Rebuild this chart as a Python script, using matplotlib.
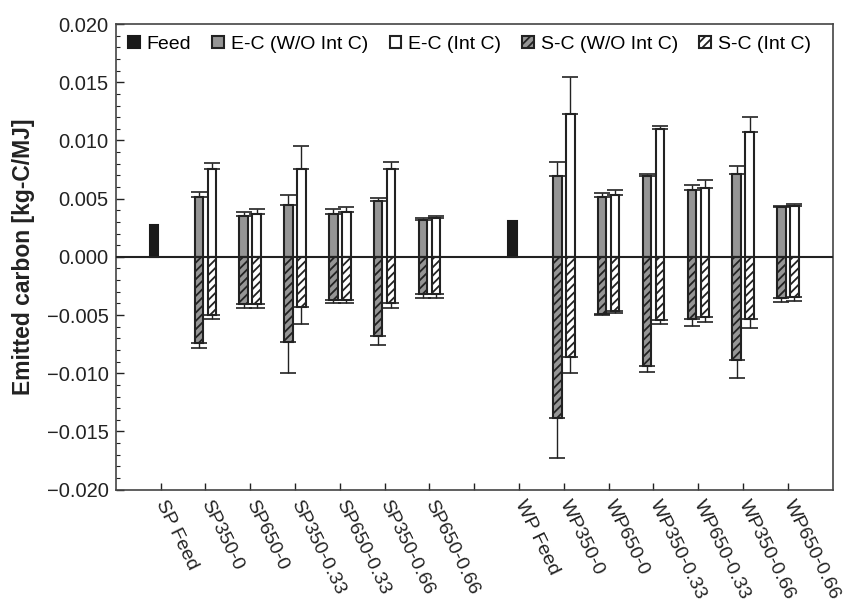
import matplotlib.pyplot as plt
import numpy as np
from matplotlib.ticker import MultipleLocator, FuncFormatter

plt.rcParams['font.family'] = ['Liberation Sans', 'DejaVu Sans']
plt.rcParams['hatch.linewidth'] = 1.3

# tick labels (blank slot between the SP and WP groups)
labels = ['SP Feed', 'SP350-0', 'SP650-0', 'SP350-0.33', 'SP650-0.33', 'SP350-0.66', 'SP650-0.66', '',
          'WP Feed', 'WP350-0', 'WP650-0', 'WP350-0.33', 'WP650-0.33', 'WP350-0.66', 'WP650-0.66']
feed_pos = [1, 9]
run_pos = [2, 3, 4, 5, 6, 7, 10, 11, 12, 13, 14, 15]

feed = [0.0027, 0.00306]

# E-C (W/O Int C): bar value and top of error bar
ec_wo = [0.0051, 0.0035, 0.00447, 0.00369, 0.00482, 0.0032,
         0.00693, 0.00513, 0.00696, 0.00576, 0.00713, 0.00427]
ec_wo_top = [0.00559, 0.00381, 0.00532, 0.0041, 0.00507, 0.00335,
             0.00819, 0.00548, 0.00713, 0.00621, 0.00779, 0.00441]

# E-C (Int C)
ec_int = [0.00756, 0.00369, 0.00756, 0.00389, 0.00756, 0.00335,
          0.01223, 0.00532, 0.01097, 0.00593, 0.01074, 0.00435]
ec_int_top = [0.00808, 0.00407, 0.00954, 0.0043, 0.00816, 0.00352,
              0.01545, 0.00576, 0.01125, 0.00656, 0.01197, 0.00455]

# S-C (W/O Int C)
sc_wo = [-0.00744, -0.00407, -0.00733, -0.00367, -0.00676, -0.0032,
         -0.01386, -0.00487, -0.0094, -0.00538, -0.00888, -0.00352]
sc_wo_bot = [-0.00785, -0.00441, -0.01, -0.00395, -0.00759, -0.00352,
             -0.0173, -0.00499, -0.00985, -0.00596, -0.01039, -0.00384]

# S-C (Int C)
sc_int = [-0.00499, -0.00407, -0.00433, -0.00367, -0.004, -0.0032,
          -0.00862, -0.00464, -0.00541, -0.00521, -0.0053, -0.00341]
sc_int_bot = [-0.0053, -0.00441, -0.00576, -0.00395, -0.00441, -0.00352,
              -0.00996, -0.00482, -0.00576, -0.00564, -0.0061, -0.00378]

fig = plt.figure(figsize=(8.49, 6.02), dpi=100)
ax = fig.add_axes([0.1363, 0.1866, 0.8445, 0.7735])

off = 0.145
w = 0.19
edge = '#222222'


def bars(x, vals, ends, label, **kw):
    vals = np.array(vals)
    err = np.abs(np.array(ends) - vals)
    if vals[0] > 0:
        yerr = [np.zeros_like(err), err]
    else:
        yerr = [err, np.zeros_like(err)]
    ax.errorbar(x, vals, yerr=yerr, fmt='none', ecolor=edge, elinewidth=1,
                capsize=5.5, capthick=1.2, zorder=2)
    return ax.bar(x, vals, w, edgecolor=edge, linewidth=1.5, zorder=3, label=label, **kw)


x = np.array(run_pos)
h1 = ax.bar(np.array(feed_pos) - off, feed, w, color='#1a1a1a', edgecolor='#1a1a1a',
            linewidth=1.5, zorder=3, label='Feed')
h2 = bars(x - off, ec_wo, ec_wo_top, 'E-C (W/O Int C)', color='#959595')
h3 = bars(x + off, ec_int, ec_int_top, 'E-C (Int C)', color='white')
h4 = bars(x - off, sc_wo, sc_wo_bot, 'S-C (W/O Int C)', color='#959595', hatch='////')
h5 = bars(x + off, sc_int, sc_int_bot, 'S-C (Int C)', color='white', hatch='////')

ax.axhline(0, color=edge, lw=1.5, zorder=4)

ax.set_xlim(0, 16)
ax.set_ylim(-0.02, 0.02)
ax.set_xticks(range(1, 16))
ax.set_xticklabels(labels, rotation=-64, ha='left', va='center', rotation_mode='anchor')
ax.yaxis.set_major_locator(MultipleLocator(0.005))
ax.yaxis.set_minor_locator(MultipleLocator(0.001))
ax.yaxis.set_major_formatter(FuncFormatter(
    lambda v, p: '0.000' if abs(v) < 1e-9 else f'{v:.3f}'.replace('-', '\u2212')))
ax.tick_params(axis='x', direction='in', length=5, width=1, pad=8, labelsize=14,
               colors=edge)
ax.tick_params(axis='y', which='major', direction='in', length=6, width=1, pad=5,
               labelsize=14.5, colors=edge)
ax.tick_params(axis='y', which='minor', direction='in', length=3, width=0.8, colors=edge)
for s in ax.spines.values():
    s.set_color('#444444')
    s.set_linewidth(1.2)

ax.set_ylabel('Emitted carbon [kg-C/MJ]', fontsize=16.5, fontweight='bold', color=edge)
ax.yaxis.set_label_coords(-0.112, 0.5)

ax.legend(handles=[h1, h2, h3, h4, h5], loc='upper left', bbox_to_anchor=(0.017, 0.975),
          ncol=5, frameon=False, fontsize=14, handlelength=0.6, handleheight=0.6,
          handletextpad=0.35, columnspacing=1.1, borderpad=0, borderaxespad=0)

fig.savefig('out.png', dpi=100)
